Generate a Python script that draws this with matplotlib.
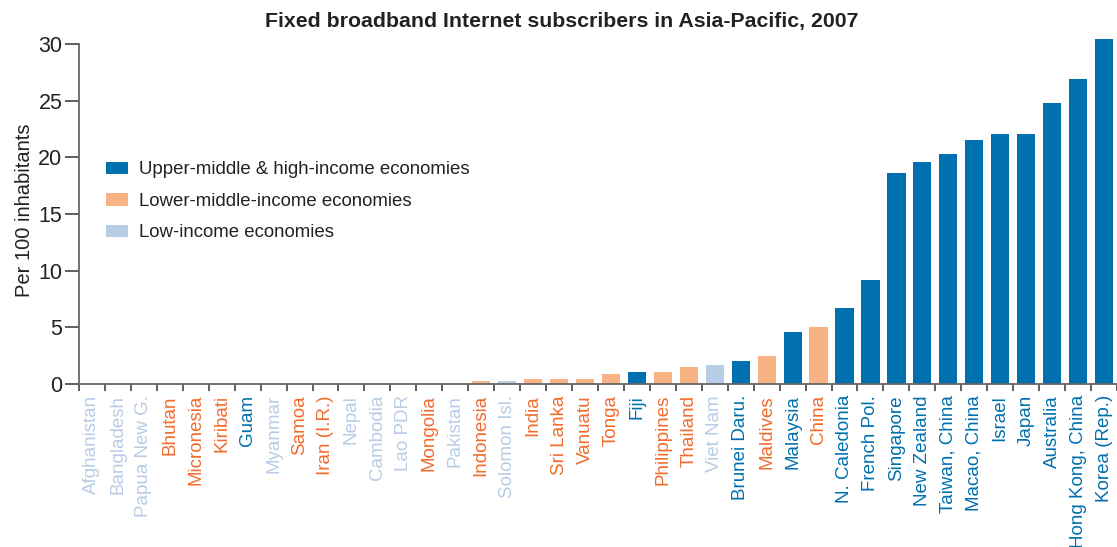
import matplotlib.pyplot as plt
from matplotlib.patches import Patch

plt.rcParams['font.family'] = ['Liberation Sans', 'DejaVu Sans']

# Ülkeler, değerler (100 kişi başına) ve gelir grubu
countries = ["Afghanistan", "Bangladesh", "Papua New G.", "Bhutan", "Micronesia", "Kiribati",
             "Guam", "Myanmar", "Samoa", "Iran (I.R.)", "Nepal", "Cambodia", "Lao PDR",
             "Mongolia", "Pakistan", "Indonesia", "Solomon Isl.", "India", "Sri Lanka",
             "Vanuatu", "Tonga", "Fiji", "Philippines", "Thailand", "Viet Nam",
             "Brunei Daru.", "Maldives", "Malaysia", "China", "N. Caledonia", "French Pol.",
             "Singapore", "New Zealand", "Taiwan, China", "Macao, China", "Israel", "Japan",
             "Australia", "Hong Kong, China", "Korea (Rep.)"]
values = [0.0, 0.0, 0.0, 0.0, 0.0, 0.0,
          0.0, 0.0, 0.0, 0.0, 0.0, 0.0, 0.0,
          0.0, 0.0, 0.25, 0.25, 0.45, 0.45,
          0.45, 0.85, 1.05, 1.05, 1.5, 1.7,
          2.05, 2.5, 4.6, 5.0, 6.7, 9.2,
          18.6, 19.6, 20.3, 21.5, 22.1, 22.1,
          24.8, 26.9, 30.4]
groups = ["low", "low", "low", "lower", "lower", "lower",
          "high", "low", "lower", "lower", "low", "low", "low",
          "lower", "low", "lower", "low", "lower", "lower",
          "lower", "lower", "high", "lower", "lower", "low",
          "high", "lower", "high", "lower", "high", "high",
          "high", "high", "high", "high", "high", "high",
          "high", "high", "high"]
legend_labels = {"high": "Upper-middle & high-income economies",
                 "lower": "Lower-middle-income economies",
                 "low": "Low-income economies"}

bar_colors = {"high": "#0070ae", "lower": "#f8b384", "low": "#b8cce6"}
text_colors = {"high": "#0070ae", "lower": "#f26b2c", "low": "#b8cce6"}

fig = plt.figure(figsize=(11.17, 5.47), dpi=100)
ax = fig.add_axes([0.0707, 0.298, 0.9293, 0.634])

x = list(range(len(countries)))
ax.bar(x, values, width=0.7, color=[bar_colors[g] for g in groups],
       linewidth=0, clip_on=False)

ax.set_xlim(-0.5, len(countries) - 0.5)
ax.set_ylim(0, 30.6)
ax.set_yticks([0, 5, 10, 15, 20, 25, 30])
ax.spines['left'].set_bounds(0, 30)
for s in ['top', 'right']:
    ax.spines[s].set_visible(False)
for s in ['left', 'bottom']:
    ax.spines[s].set_color('#666666')
    ax.spines[s].set_linewidth(1.3)

# Sınır çizgileri büyük tik, etiketler küçük tik
ax.set_xticks([i - 0.5 for i in range(len(countries) + 1)])
ax.set_xticklabels([])
ax.set_xticks(x, minor=True)
ax.set_xticklabels(countries, minor=True, rotation=90, fontsize=13.5)
for lbl, g in zip(ax.get_xticklabels(minor=True), groups):
    lbl.set_color(text_colors[g])
ax.tick_params(axis='x', which='major', length=5, width=1.2, color='#444444', direction='out')
ax.tick_params(axis='x', which='minor', length=0, pad=8)
ax.tick_params(axis='y', length=10, width=1.2, color='#444444', labelsize=15.5,
               labelcolor='#222222', pad=2)

ax.set_ylabel("Per 100 inhabitants", fontsize=14.5, color='#222222', labelpad=3)

fig.text(0.503, 0.96, "Fixed broadband Internet subscribers in Asia-Pacific, 2007",
         ha='center', va='center', fontsize=15.3, fontweight='bold', color='#222222')

handles = [Patch(facecolor=bar_colors[k], label=legend_labels[k]) for k in ["high", "lower", "low"]]
ax.legend(handles=handles, loc='upper left', bbox_to_anchor=(0.010, 0.69), frameon=False,
          fontsize=13.4, handlelength=1.15, handleheight=0.65, handletextpad=0.6,
          labelspacing=0.78, labelcolor='#222222')

plt.savefig("out.png", dpi=100)
